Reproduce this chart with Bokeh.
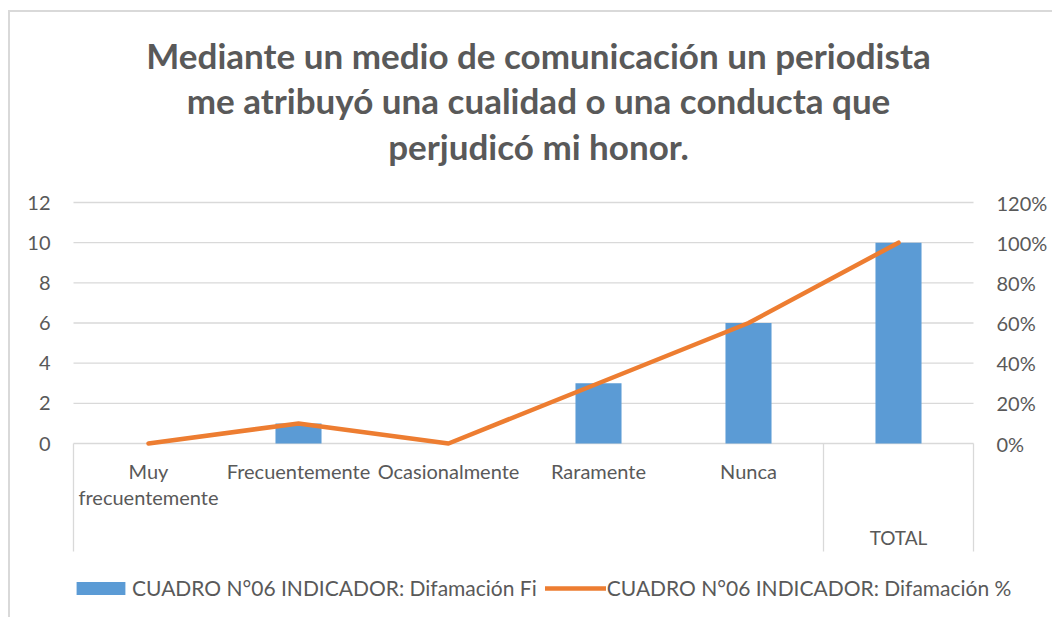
from bokeh.plotting import figure
from bokeh.models import (Range1d, LinearAxis, FixedTicker, NumeralTickFormatter,
                          Label, Legend, LegendItem)
from bokeh.embed import file_html
from bokeh.resources import INLINE

# ---------------- data ----------------
categories = ["Muy\nfrecuentemente", "Frecuentemente", "Ocasionalmente", "Raramente", "Nunca", ""]
groups = ["", "", "", "", "", "TOTAL"]
fi_values = [0, 1, 0, 3, 6, 10]
pct_values = [0.0, 0.10, 0.0, 0.30, 0.60, 1.00]
left_ticks = [0, 2, 4, 6, 8, 10, 12]
right_ticks = [0.0, 0.2, 0.4, 0.6, 0.8, 1.0, 1.2]
title_lines = ["Mediante un medio de comunicación un periodista",
               "me atribuyó una cualidad o una conducta que",
               "perjudicó mi honor."]
legend_labels = ["CUADRO N°06 INDICADOR: Difamación Fi",
                 "CUADRO N°06 INDICADOR: Difamación %"]

# ---------------- layout ----------------
OX, OY = 10, 12                 # page position of the canvas origin
W, H = 1054 - OX, 619 - OY
FONT = "Lato"
GRAY = "#595959"
LINEGRAY = "#d9d9d9"
BLUE = "#5B9BD5"
ORANGE = "#ED7D31"

PX_Y = (443 - 202) / 12.0      # pixels per unit (left axis)
PX_X = 150.0                   # pixels per category
AREA_L = 73                    # page x of plot-area left edge
ZERO_Y = 443                   # page y of value 0


def ydat(page_y):
    return (ZERO_Y - page_y) / PX_Y


def xdat(page_x):
    return (page_x - AREA_L) / PX_X


y_start, y_end = ydat(OY + H), ydat(OY)
x_start, x_end = xdat(OX), xdat(OX + W)
ncat = len(categories)

p = figure(width=W, height=H, output_backend="svg", toolbar_location=None, title=None,
           x_range=Range1d(x_start, x_end), y_range=Range1d(y_start, y_end),
           x_axis_type=None, y_axis_location=None,
           min_border_left=0, min_border_right=0, min_border_top=0, min_border_bottom=0,
           styles={"margin-left": "8px", "margin-top": "10px",
                   "border-left": "2px solid #d9d9d9", "border-top": "2px solid #d9d9d9"})
p.outline_line_color = None
p.background_fill_color = "white"
p.border_fill_color = "white"
p.xgrid.visible = False
p.ygrid.visible = False

p.extra_y_ranges = {"pct": Range1d(y_start / 10.0, y_end / 10.0)}

ax_l = LinearAxis(ticker=FixedTicker(ticks=left_ticks), fixed_location=0)
ax_r = LinearAxis(y_range_name="pct", ticker=FixedTicker(ticks=right_ticks),
                  formatter=NumeralTickFormatter(format="0%"), fixed_location=ncat)
for ax in (ax_l, ax_r):
    ax.axis_line_color = None
    ax.major_tick_line_color = None
    ax.minor_tick_line_color = None
    ax.major_tick_out = 0
    ax.major_tick_in = 0
    ax.major_label_text_font = FONT
    ax.major_label_text_font_size = "20px"
    ax.major_label_text_color = GRAY
    ax.major_label_standoff = 23
p.add_layout(ax_l, "left")
p.add_layout(ax_r, "right")

# horizontal gridlines across the plot area
p.segment(x0=[0] * len(left_ticks), y0=left_ticks, x1=[ncat] * len(left_ticks), y1=left_ticks,
          line_color=LINEGRAY, line_width=1.3)

xs = [i + 0.5 for i in range(ncat)]

# group dividers (multi-level category axis)
bounds = [0]
for i in range(1, len(groups)):
    if groups[i] != groups[i - 1]:
        bounds.append(i)
bounds.append(len(groups))
p.segment(x0=bounds, y0=[0] * len(bounds), x1=bounds, y1=[ydat(551)] * len(bounds),
          line_color=LINEGRAY, line_width=1.3)

bars = p.vbar(x=xs, top=fi_values, width=0.307, fill_color=BLUE, line_color=None)
line = p.line(x=xs, y=pct_values, y_range_name="pct", line_color=ORANGE,
              line_width=4.5, line_cap="round", line_join="round")

# title (three centred lines)
for k, t in enumerate(title_lines):
    p.add_layout(Label(x=xdat(538), y=ydat(54 + 45.5 * k), text=t, text_align="center",
                       text_baseline="middle", text_font=FONT, text_font_size="35px",
                       text_font_style="bold", text_color=GRAY))

# category labels
for x, c in zip(xs, categories):
    p.add_layout(Label(x=x, y=ydat(458), text=c, text_align="center", text_baseline="top",
                       text_font=FONT, text_font_size="20px", text_color=GRAY,
                       text_line_height=1.12))
# group labels
for i in range(len(bounds) - 1):
    g = groups[bounds[i]]
    if g:
        p.add_layout(Label(x=(bounds[i] + bounds[i + 1]) / 2.0, y=ydat(537), text=g,
                           text_align="center", text_baseline="middle",
                           text_font=FONT, text_font_size="19px", text_color=GRAY))

legend = Legend(items=[LegendItem(label=legend_labels[0], renderers=[bars]),
                       LegendItem(label=legend_labels[1], renderers=[line])],
                orientation="horizontal", location=(60, 19), padding=0, margin=0,
                spacing=8, label_standoff=1, glyph_width=61, glyph_height=16,
                border_line_color=None, background_fill_alpha=0,
                label_text_font=FONT, label_text_font_size="21px",
                label_text_color=GRAY)
p.add_layout(legend, "center")

open("out.html", "w").write(file_html(p, INLINE))
